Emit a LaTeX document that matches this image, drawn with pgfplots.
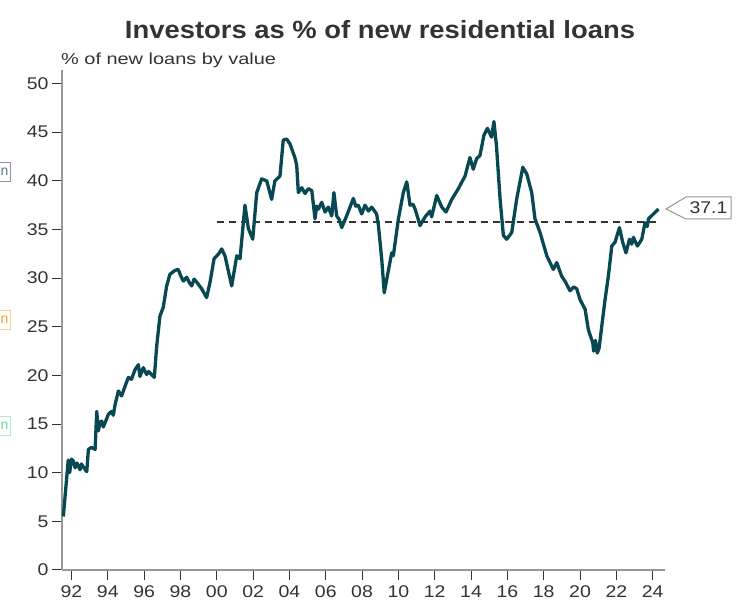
\documentclass[border=0pt]{standalone}
\usepackage{pgfplots}
\pgfplotsset{compat=1.18}
\usepackage{fontspec}
\setmainfont{Liberation Sans}
\definecolor{linec}{RGB}{8,72,82}
\definecolor{txt}{RGB}{51,51,51}
\definecolor{axc}{RGB}{150,150,150}
\newcommand{\wide}[1]{\scalebox{1.15}[1]{#1}}
\begin{document}
\begin{tikzpicture}[x=1bp,y=1bp]
\useasboundingbox (0,0) rectangle (736,609);
\clip (0,0) rectangle (736,609);
\begin{axis}[
  at={(62bp,39bp)}, anchor=south west,
  scale only axis, width=603bp, height=500bp,
  xmin=1991.477, xmax=2024.68, ymin=0, ymax=51.4,
  axis x line*=bottom, axis y line*=left,
  axis line style={-, axc, line width=1.2bp},
  xtick={1992,1994,...,2024},
  xticklabels={\wide{92},\wide{94},\wide{96},\wide{98},\wide{00},\wide{02},\wide{04},\wide{06},\wide{08},\wide{10},\wide{12},\wide{14},\wide{16},\wide{18},\wide{20},\wide{22},\wide{24}},
  ytick={0,5,...,50},
  yticklabel={\wide{\pgfmathprintnumber{\tick}}},
  tick align=outside,
  major tick length=10bp,
  tick style={txt, line width=1bp},
  x tick label style={font=\fontsize{17}{17}\selectfont, text=txt, yshift=-2bp},
  y tick label style={font=\fontsize{17}{17}\selectfont, text=txt},
  /pgf/number format/assume math mode=true,
  clip=false,
]
\addplot[txt, line width=1.8bp, dash pattern=on 7bp off 5bp] coordinates {(2000,35.8) (2024.35,35.8)};
\addplot[linec, line width=3.3bp, line join=round] coordinates {
(1991.55,5.5) (1991.82,11.3) (1991.90,10.0) (1992.00,11.4) (1992.10,11.2) (1992.20,10.5) (1992.30,11.0) (1992.47,10.3)
(1992.55,10.9) (1992.65,10.6) (1992.84,10.1) (1992.93,12.4) (1993.10,12.6) (1993.30,12.4) (1993.39,16.3)
(1993.48,14.3) (1993.57,15.2) (1993.66,15.3) (1993.75,14.7) (1993.84,15.1) (1994.03,16.0) (1994.20,16.3) (1994.30,15.9) (1994.40,17.0)
(1994.58,18.4) (1994.76,17.9) (1994.95,18.9) (1995.13,19.8) (1995.30,19.6) (1995.50,20.6)
(1995.68,21.1) (1995.77,19.9) (1995.95,20.8) (1996.14,20.1) (1996.25,20.4) (1996.40,20.1) (1996.56,19.8)
(1996.69,23.0) (1996.87,26.1) (1997.05,27.0) (1997.24,29.2) (1997.42,30.4) (1997.70,30.8)
(1997.88,30.9) (1998.00,30.3) (1998.16,29.7) (1998.34,30.1) (1998.50,29.5) (1998.62,29.2) (1998.75,29.9) (1998.89,29.6) (1999.17,28.9)
(1999.44,28.0) (1999.63,29.6) (1999.85,32.0) (2000.10,32.5) (2000.27,33.0) (2000.45,32.3)
(2000.82,29.2) (2001.10,32.3) (2001.28,32.0) (2001.55,37.5) (2001.74,35.1) (2001.98,34.0)
(2002.20,38.8) (2002.47,40.2) (2002.75,40.0) (2003.02,38.1) (2003.20,40.0) (2003.48,40.5)
(2003.66,44.2) (2003.85,44.3) (2004.03,43.8) (2004.30,42.4) (2004.40,41.6) (2004.49,38.8)
(2004.68,39.3) (2004.86,38.7) (2005.04,39.2) (2005.23,39.0) (2005.41,36.1) (2005.50,37.4) (2005.60,37.1)
(2005.78,37.8) (2005.96,36.8) (2006.14,37.3) (2006.33,36.4) (2006.45,38.8) (2006.60,36.4)
(2006.75,36.0) (2006.88,35.2) (2007.15,36.4) (2007.52,38.2) (2007.65,37.4) (2007.79,37.5) (2007.98,36.6) (2008.16,37.5)
(2008.35,36.9) (2008.53,37.3) (2008.80,36.6) (2008.90,35.4) (2009.08,32.0) (2009.22,28.5) (2009.36,29.9)
(2009.63,32.6) (2009.72,32.3) (2010.00,36.1) (2010.27,38.8) (2010.46,39.9) (2010.64,37.5)
(2010.80,37.6) (2010.92,37.1) (2011.05,36.3) (2011.19,35.4) (2011.47,36.3) (2011.74,36.9) (2011.83,36.3) (2012.11,38.5)
(2012.39,37.3) (2012.62,36.8) (2012.94,38.1) (2013.30,39.2) (2013.67,40.5) (2013.94,42.4)
(2014.12,41.2) (2014.31,42.3) (2014.49,42.6) (2014.71,44.7) (2014.90,45.4) (2015.13,44.5)
(2015.26,46.1) (2015.40,43.6) (2015.60,38.1) (2015.78,34.4) (2015.96,34.0) (2016.24,34.7)
(2016.51,38.1) (2016.85,41.4) (2017.07,40.7) (2017.34,38.8) (2017.52,36.1) (2017.80,34.7)
(2018.17,32.3) (2018.53,30.9) (2018.72,31.6) (2018.99,30.2) (2019.20,29.6) (2019.45,28.7) (2019.65,29.1) (2019.82,28.9)
(2020.00,27.8) (2020.28,26.8) (2020.46,24.7) (2020.64,23.7) (2020.70,23.4) (2020.75,22.5)
(2020.85,23.6) (2020.95,22.3) (2021.05,22.8) (2021.20,25.1) (2021.38,27.8) (2021.56,30.2)
(2021.75,33.3) (2021.93,33.7) (2022.17,35.2) (2022.35,33.7) (2022.53,32.6) (2022.72,34.0)
(2022.85,33.5) (2022.94,34.2) (2023.16,33.3) (2023.40,34.0) (2023.58,35.7) (2023.70,35.3) (2023.77,36.1) (2024.04,36.6)
(2024.32,37.1)
};
\end{axis}
% title and subtitle
\node[font=\bfseries\fontsize{25}{25}\selectfont, text=txt] at (380,579) {\scalebox{1.1}[1]{Investors as \% of new residential loans}};
\node[anchor=west, font=\fontsize{16}{16}\selectfont, text=txt, inner sep=0pt] at (61,549) {\scalebox{1.25}[1]{\% of new loans by value}};
% value label
\draw[axc, line width=1bp, fill=white] (666,400) -- (686,412) -- (731,412) -- (731,390) -- (686,390) -- cycle;
\node[font=\fontsize{17}{17}\selectfont, text=txt] at (708.5,401) {\wide{37.1}};
% cropped boxes at left edge
\node[anchor=east, draw=axc, text=linec!70, font=\fontsize{14}{14}\selectfont, inner xsep=1.5bp, minimum height=19bp] at (10,437) {n};
\node[anchor=east, draw=orange!40, text=orange!80, font=\fontsize{14}{14}\selectfont, inner xsep=1.5bp, minimum height=19bp] at (10,289) {n};
\node[anchor=east, draw=green!50!teal!30, text=green!50!teal!60, font=\fontsize{14}{14}\selectfont, inner xsep=1.5bp, minimum height=19bp] at (10,183) {n};
\end{tikzpicture}
\end{document}
